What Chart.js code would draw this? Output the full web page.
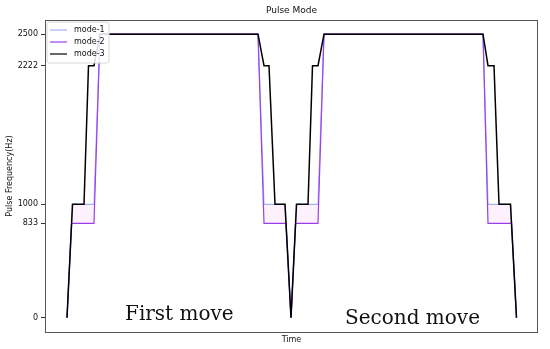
<!DOCTYPE html>
<html>
<head>
<meta charset="utf-8">
<script src="https://cdn.jsdelivr.net/npm/chart.js@4/dist/chart.umd.min.js"></script>
<style>
  html, body { margin: 0; padding: 0; background: #fff; }
  #wrap { width: 550px; height: 349px; }
</style>
</head>
<body>
<div id="wrap"><canvas id="graficoPulsos" width="550" height="349"></canvas></div>
<script>
// tiempo (unidades arbitrarias) y frecuencia de pulso en Hz
const mode1 = [
  [0, 0], [5.5, 1000], [27, 1000], [33, 2500], [191, 2500], [197, 1000], [218, 1000], [224, 0],
  [229.5, 1000], [251, 1000], [257, 2500], [416, 2500], [421, 1000], [443.5, 1000], [449.5, 0]
];
const mode2 = [
  [0, 0], [4.6, 833], [27, 833], [33, 2500], [191, 2500], [197, 833], [219, 833], [224, 0],
  [228.6, 833], [251, 833], [257, 2500], [416, 2500], [421, 833], [444.5, 833], [449.5, 0]
];
const mode3 = [
  [0, 0], [5.5, 1000], [17, 1000], [21.5, 2222], [27, 2222], [33, 2500], [191, 2500], [197, 2222],
  [202, 2222], [208, 1000], [218, 1000], [224, 0], [229.5, 1000], [241, 1000], [245.5, 2222],
  [251, 2222], [257, 2500], [416, 2500], [421, 2222], [427, 2222], [432, 1000], [443.5, 1000], [449.5, 0]
];
const seriesNames = ['mode-1', 'mode-2', 'mode-3'];
const yTicks = [0, 833, 1000, 2222, 2500];
const moveLabels = ['First move', 'Second move'];

const colores = ['#9fb6f2', '#9a3ef0', '#000000'];
const toXY = (arr) => arr.map(([x, y]) => ({ x, y }));

// Plugin para marco, títulos, leyenda y textos de movimiento
const decoraciones = {
  id: 'decoraciones',
  afterDatasetsDraw(chart) {
    const { ctx, chartArea: a } = chart;
    ctx.save();
    // marco
    ctx.strokeStyle = '#555';
    ctx.lineWidth = 1;
    ctx.strokeRect(a.left + 0.5, a.top + 0.5, a.right - a.left - 1, a.bottom - a.top);

    // leyenda
    const lx = 47, ly = 22, lw = 62, lh = 41;
    ctx.fillStyle = 'rgba(255,255,255,0.85)';
    ctx.strokeStyle = '#d8d8d8';
    ctx.beginPath();
    ctx.roundRect(lx, ly, lw, lh, 2);
    ctx.fill();
    ctx.stroke();
    ctx.font = '8px "DejaVu Sans"';
    ctx.textBaseline = 'middle';
    ctx.textAlign = 'left';
    seriesNames.forEach((n, i) => {
      const yy = 30 + i * 12;
      ctx.strokeStyle = colores[i];
      ctx.lineWidth = 1.2;
      ctx.beginPath();
      ctx.moveTo(50, yy);
      ctx.lineTo(67, yy);
      ctx.stroke();
      ctx.fillStyle = '#111';
      ctx.fillText(n, 74, yy);
    });

    // título y ejes
    ctx.fillStyle = '#111';
    ctx.textAlign = 'center';
    ctx.font = '9px "DejaVu Sans"';
    ctx.fillText('Pulse Mode', (a.left + a.right) / 2, 11);
    ctx.font = '8px "DejaVu Sans"';
    ctx.fillText('Time', (a.left + a.right) / 2, 340);
    ctx.translate(10, (a.top + a.bottom) / 2);
    ctx.rotate(-Math.PI / 2);
    ctx.fillText('Pulse Frequency(Hz)', 0, 0);
    ctx.restore();

    // textos de movimiento
    ctx.save();
    ctx.fillStyle = '#111';
    ctx.font = '20px "DejaVu Serif"';
    ctx.textBaseline = 'alphabetic';
    ctx.textAlign = 'left';
    ctx.fillText(moveLabels[0], 125, 320);
    ctx.fillText(moveLabels[1], 345, 324);
    ctx.restore();
  }
};

new Chart(document.getElementById('graficoPulsos'), {
  type: 'line',
  data: {
    datasets: [
      { label: seriesNames[0], data: toXY(mode1), borderColor: colores[0], borderWidth: 1.2, fill: false, order: 3 },
      { label: seriesNames[1], data: toXY(mode2), borderColor: colores[1], borderWidth: 1.2, order: 2,
        fill: '-1', backgroundColor: 'rgba(240,120,240,0.10)' },
      { label: seriesNames[2], data: toXY(mode3), borderColor: colores[2], borderWidth: 1.5, fill: false, order: 1 }
    ]
  },
  options: {
    responsive: false,
    animation: false,
    elements: { point: { radius: 0 }, line: { tension: 0 } },
    layout: { padding: { top: 20, right: 12, bottom: 17, left: 0 } },
    plugins: { legend: { display: false }, title: { display: false }, tooltip: { enabled: false } },
    scales: {
      x: {
        type: 'linear',
        min: -22,
        max: 471,
        ticks: { display: false },
        grid: { display: false, drawTicks: false },
        border: { display: false },
        afterFit: (s) => { s.height = 0; }
      },
      y: {
        min: -125,
        max: 2625,
        afterBuildTicks: (s) => { s.ticks = yTicks.map((v) => ({ value: v })); },
        ticks: {
          color: '#111',
          font: { family: 'DejaVu Sans', size: 8 },
          padding: 3,
          callback: (v) => String(v)
        },
        grid: { drawOnChartArea: false, drawTicks: true, tickLength: 4, color: '#333' },
        border: { display: false },
        afterFit: (s) => { s.width = 45; }
      }
    }
  },
  plugins: [decoraciones]
});
</script>
</body>
</html>
